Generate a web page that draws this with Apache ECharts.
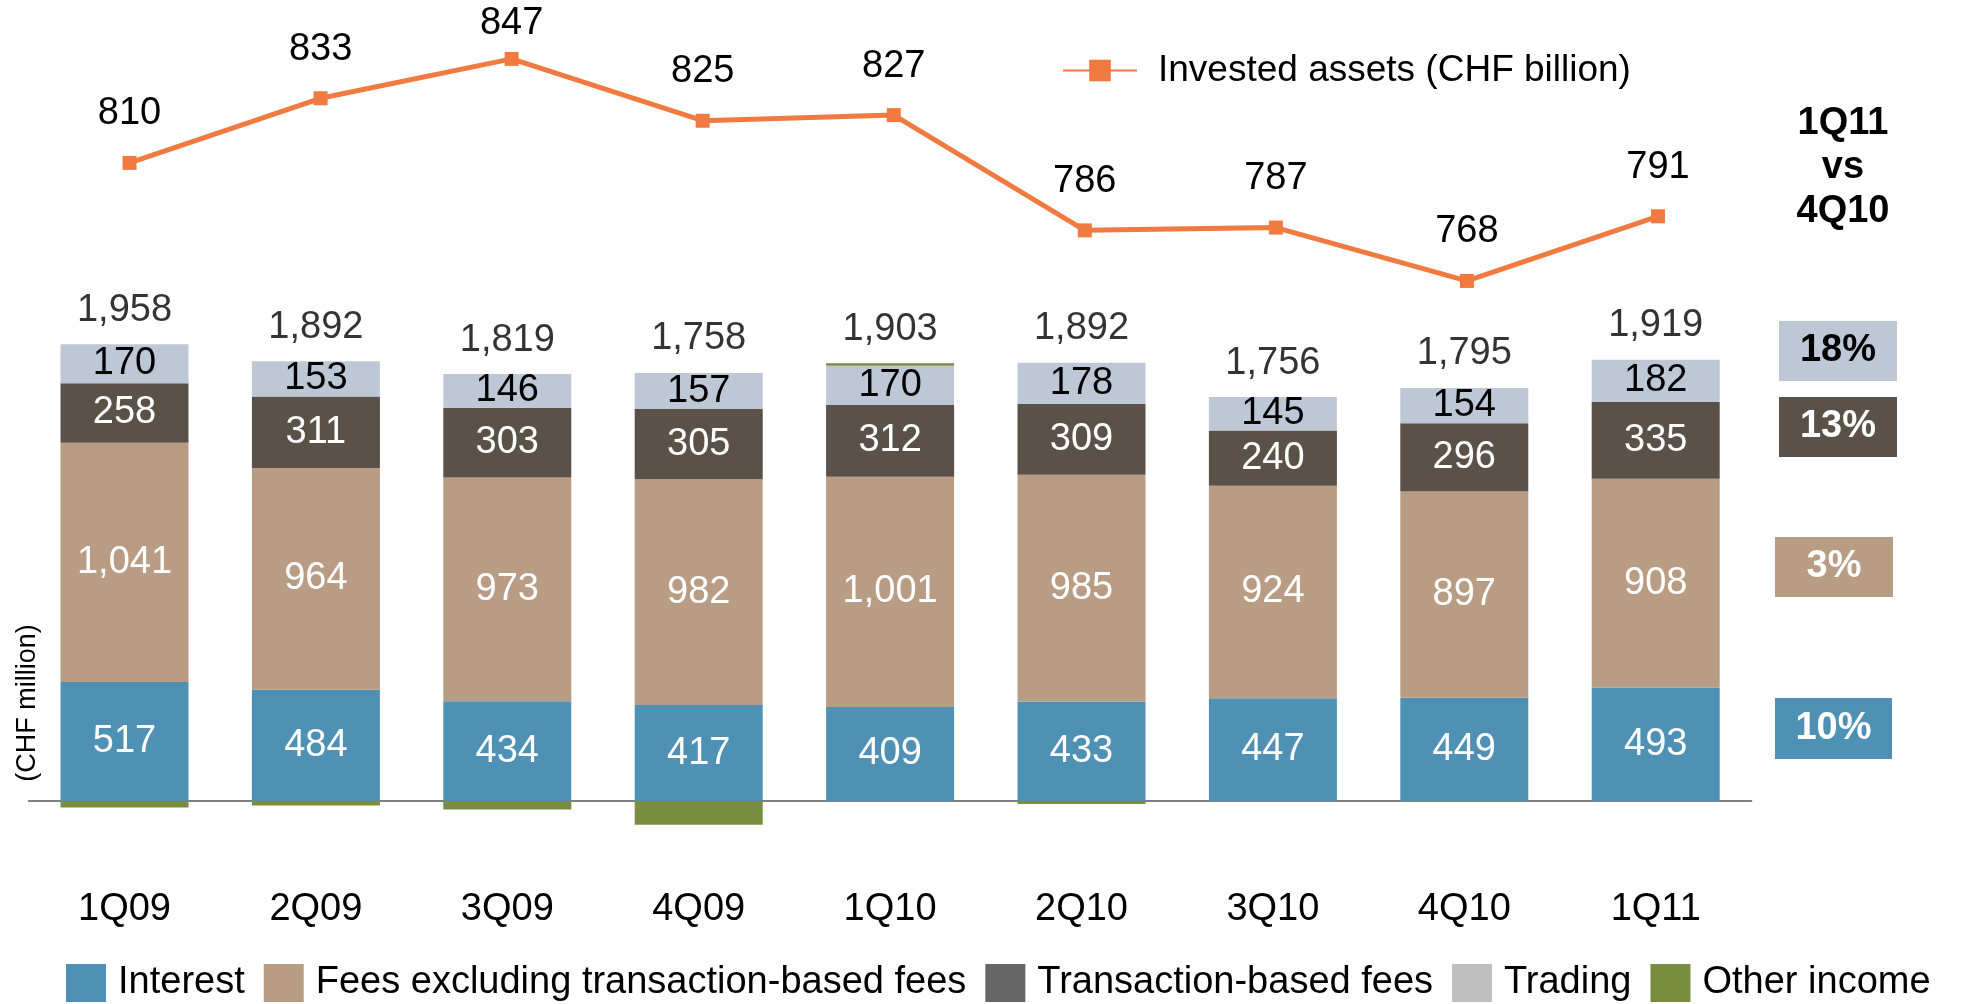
<!DOCTYPE html>
<html><head><meta charset="utf-8">
<script src="https://cdn.jsdelivr.net/npm/echarts@6/dist/echarts.min.js"></script>
<style>html,body{margin:0;padding:0;background:#fff}#c{width:1966px;height:1004px}</style>
</head><body><div id="c"></div>
<script>
const quarters = ['1Q09','2Q09','3Q09','4Q09','1Q10','2Q10','3Q10','4Q10','1Q11'];
const interest = [517,484,434,417,409,433,447,449,493];
const feesExTransaction = [1041,964,973,982,1001,985,924,897,908];
const transactionFees = [258,311,303,305,312,309,240,296,335];
const trading = [170,153,146,157,170,178,145,154,182];
const otherIncome = [-28,-20,-37,-103,11,-13,0,-1,1];
const totals = [1958,1892,1819,1758,1903,1892,1756,1795,1919];
const investedAssets = [810,833,847,825,827,786,787,768,791];
const changeTitle = ['1Q11','vs','4Q10'];
const changeLabels = ['18%','13%','3%','10%'];

const FONT = 'Liberation Sans';
const C = {interest:'#4E91B5', fees:'#B89C83', trans:'#5A5248', trading:'#BDC7D6', other:'#7A8C3F', line:'#F07A40'};
const fmt = v => Number(v).toLocaleString('en-US');
const stackTop = quarters.map((_, i) => interest[i] + feesExTransaction[i] + transactionFees[i] + trading[i] + Math.max(otherIncome[i], 0));

function barSeries(name, data, color, labelColor) {
  return {
    name, type: 'bar', stack: 'rev', data, barWidth: 128,
    xAxisIndex: 0, yAxisIndex: 0,
    itemStyle: {color},
    label: labelColor ? {show: true, position: 'inside', color: labelColor, fontSize: 38, fontFamily: FONT, formatter: p => fmt(p.value)} : {show: false}
  };
}

const chart = echarts.init(document.getElementById('c'), null, {renderer: 'canvas'});

const boxes = [
  {x: 1779, y: 321, w: 118, h: 60, fill: C.trading, text: changeLabels[0], color: '#000'},
  {x: 1779, y: 397, w: 118, h: 60, fill: C.trans, text: changeLabels[1], color: '#fff'},
  {x: 1775, y: 537, w: 118, h: 60, fill: C.fees, text: changeLabels[2], color: '#fff'},
  {x: 1775, y: 698, w: 117, h: 61, fill: C.interest, text: changeLabels[3], color: '#fff'}
];
const graphic = [];
boxes.forEach(b => {
  graphic.push({type: 'rect', shape: {x: b.x, y: b.y, width: b.w, height: b.h}, style: {fill: b.fill}});
  graphic.push({type: 'text', x: b.x + b.w / 2, y: b.y + b.h / 2, style: {text: b.text, fill: b.color, font: 'bold 38px "' + FONT + '"', textAlign: 'center', textVerticalAlign: 'middle'}});
});
changeTitle.forEach((t, i) => {
  graphic.push({type: 'text', x: 1843, y: 124 + i * 44, style: {text: t, fill: '#000', font: 'bold 38px "' + FONT + '"', textAlign: 'center', textVerticalAlign: 'middle'}});
});
graphic.push({type: 'text', x: 28, y: 703, rotation: Math.PI / 2, style: {text: '(CHF million)', fill: '#000', font: '27px "' + FONT + '"', textAlign: 'center', textVerticalAlign: 'middle'}});

chart.setOption({
  animation: false,
  backgroundColor: '#fff',
  textStyle: {fontFamily: FONT},
  grid: [
    {left: 28.8, right: 214.6, top: 19, bottom: 157, outerBoundsMode: 'none', containLabel: false},
    {left: 34, right: 212.5, top: 19, bottom: 157, outerBoundsMode: 'none', containLabel: false}
  ],
  xAxis: [
    {type: 'category', gridIndex: 0, data: quarters,
     axisLine: {onZero: true, lineStyle: {color: '#7f7f7f', width: 2}},
     axisTick: {show: false},
     axisLabel: {margin: 44, fontSize: 38, color: '#000', fontFamily: FONT}},
    {type: 'category', gridIndex: 1, data: quarters, show: false}
  ],
  yAxis: [
    {type: 'value', gridIndex: 0, min: -200, max: 3400, show: false, splitLine: {show: false}},
    {type: 'value', gridIndex: 1, min: 566.6, max: 861.2, show: false, splitLine: {show: false}}
  ],
  legend: [
    {
      left: 66, top: 964, orient: 'horizontal', icon: 'rect', padding: 0,
      itemWidth: 40, itemHeight: 38, itemGap: 19,
      textStyle: {fontSize: 38, color: '#000', fontFamily: FONT, padding: [8, 0, 0, 7]},
      data: [
        {name: 'Interest', itemStyle: {color: C.interest}},
        {name: 'Fees excluding transaction-based fees', itemStyle: {color: C.fees}},
        {name: 'Transaction-based fees', itemStyle: {color: '#666666'}},
        {name: 'Trading', itemStyle: {color: '#BFBFBF'}},
        {name: 'Other income', itemStyle: {color: C.other}}
      ],
      selectedMode: false
    },
    {
      left: 1062, top: 52, padding: 0, itemWidth: 74, itemHeight: 27,
      textStyle: {fontSize: 37, color: '#000', fontFamily: FONT, padding: [0, 0, 0, 16]},
      data: ['Invested assets (CHF billion)'],
      selectedMode: false
    }
  ],
  graphic,
  series: [
    barSeries('Interest', interest, C.interest, '#fff'),
    barSeries('Fees excluding transaction-based fees', feesExTransaction, C.fees, '#fff'),
    barSeries('Transaction-based fees', transactionFees, C.trans, '#fff'),
    barSeries('Trading', trading, C.trading, '#000'),
    barSeries('Other income', otherIncome, C.other, null),
    {
      name: 'Total', type: 'scatter', xAxisIndex: 0, yAxisIndex: 0,
      data: stackTop, symbolSize: 0, silent: true,
      label: {show: true, position: 'top', distance: 15, fontSize: 38, color: '#000', fontFamily: FONT, formatter: p => fmt(totals[p.dataIndex])}
    },
    {
      name: 'Invested assets (CHF billion)', type: 'line', xAxisIndex: 1, yAxisIndex: 1,
      data: investedAssets, symbol: 'rect', symbolSize: 14,
      lineStyle: {color: C.line, width: 5}, itemStyle: {color: C.line},
      label: {show: true, position: 'top', distance: 23, fontSize: 38, color: '#000', fontFamily: FONT},
      labelLayout: p => (p.labelRect.y < 5 ? {dy: 5 - p.labelRect.y} : {})
    }
  ]
});
</script>
</body></html>
